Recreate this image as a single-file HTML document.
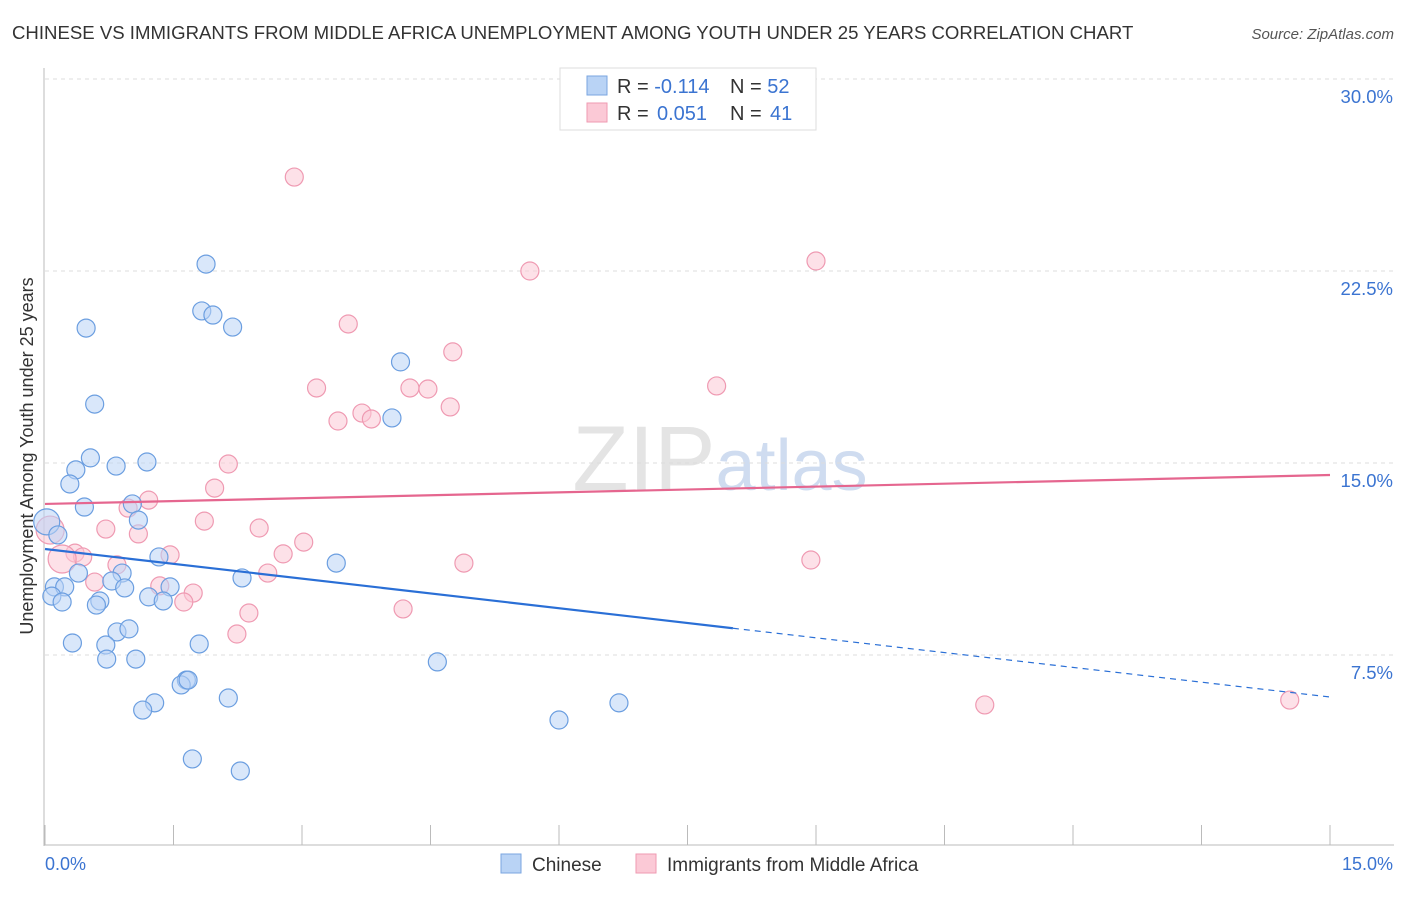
<!DOCTYPE html>
<html><head><meta charset="utf-8"><style>
body{margin:0;background:#fff;font-family:"Liberation Sans",sans-serif}
svg text{font-family:"Liberation Sans",sans-serif}
</style></head><body>
<svg id="chart" width="1406" height="892" xmlns="http://www.w3.org/2000/svg">
<text x="12" y="39" font-size="18.6" fill="#333">CHINESE VS IMMIGRANTS FROM MIDDLE AFRICA UNEMPLOYMENT AMONG YOUTH UNDER 25 YEARS CORRELATION CHART</text>
<text x="1394" y="39" font-size="15" fill="#555" text-anchor="end" font-style="italic">Source: ZipAtlas.com</text>
<text x="720" y="490" font-size="92" text-anchor="middle" fill="#e4e4e4" font-family="Liberation Serif">ZIP<tspan fill="#cfdcf0" font-family="Liberation Sans" font-size="72">atlas</tspan></text>
<g id="grid"></g><g id="axes"></g><g id="marks"></g>
<text transform="translate(33,456) rotate(-90)" font-size="18" fill="#333" text-anchor="middle">Unemployment Among Youth under 25 years</text>
<g>
<rect x="560" y="68" width="256" height="62" fill="#fff" stroke="#ddd"/>
<rect x="587" y="76" width="20" height="19" fill="#b9d3f5" stroke="#7aa6e0"/>
<rect x="587" y="103" width="20" height="19" fill="#fbc9d6" stroke="#ef9ab2"/>
<text x="617" y="93" font-size="20" fill="#333">R = <tspan fill="#3b74d1">-0.114</tspan><tspan x="730">N = </tspan><tspan fill="#3b74d1">52</tspan></text>
<text x="617" y="120" font-size="20" fill="#333">R = <tspan fill="#3b74d1" x="657">0.051</tspan><tspan x="730">N = </tspan><tspan fill="#3b74d1" x="770">41</tspan></text>
</g>
<g>
<rect x="501" y="854" width="20" height="19" fill="#b9d3f5" stroke="#7aa6e0"/>
<text x="532" y="871" font-size="19" fill="#333">Chinese</text>
<rect x="636" y="854" width="20" height="19" fill="#fbc9d6" stroke="#ef9ab2"/>
<text x="667" y="871" font-size="19" fill="#333">Immigrants from Middle Africa</text>
</g>
</svg>
<script>
const yTicks=[7.5,15,22.5,30];
const yTickLabels=["7.5%","15.0%","22.5%","30.0%"];
const xTicks=[0,1.5,3,4.5,6,7.5,9,10.5,12,13.5,15];
const xEndLabels=["0.0%","15.0%"];
const chineseX=[1.88,0.48,1.83,1.96,2.19,0.58,4.15,4.05,0.53,0.83,1.19,0.36,0.29,0.46,1.02,1.09,0.02,0.15,1.33,3.40,0.39,0.90,2.30,0.78,0.11,0.23,0.93,1.46,0.08,0.20,0.64,1.21,1.38,0.60,0.84,0.98,0.32,0.71,1.80,0.72,1.06,4.58,1.65,1.59,1.67,2.14,1.28,1.14,6.00,6.70,1.72,2.28];
const chineseY=[22.77,20.27,20.94,20.78,20.31,17.30,18.95,16.76,15.20,14.88,15.04,14.73,14.18,13.28,13.40,12.77,12.70,12.19,11.33,11.09,10.70,10.70,10.51,10.39,10.16,10.16,10.12,10.16,9.80,9.57,9.61,9.77,9.61,9.45,8.40,8.52,7.97,7.89,7.93,7.34,7.34,7.23,6.52,6.33,6.52,5.82,5.63,5.35,4.96,5.63,3.44,2.97];
const immX=[2.91,5.66,9.00,3.54,4.76,3.17,4.26,4.47,7.84,3.70,3.42,3.81,4.73,2.14,1.98,1.21,0.97,1.86,0.71,2.50,1.09,0.06,3.02,0.35,1.46,2.78,0.44,0.20,8.94,4.89,0.84,2.60,0.58,1.34,1.73,1.62,2.38,4.18,2.24,10.97,14.53];
const immY=[26.17,22.50,22.89,20.43,19.34,17.93,17.93,17.89,18.01,16.95,16.64,16.72,17.19,14.96,14.02,13.55,13.24,12.73,12.42,12.46,12.23,12.38,11.91,11.48,11.41,11.45,11.33,11.25,11.21,11.09,11.02,10.70,10.35,10.20,9.92,9.57,9.14,9.30,8.32,5.55,5.74];
const chineseTrend=[11.64,5.86];
const chineseSolidEnd=8.03;
const immTrend=[13.40,14.53];
const NS="http://www.w3.org/2000/svg";
const sx=v=>45+v/15*1285;
const sy=v=>847-v/7.5*192;
function mk(tag,attrs,parent){const e=document.createElementNS(NS,tag);for(const k in attrs)e.setAttribute(k,attrs[k]);parent.appendChild(e);return e;}
const grid=document.getElementById('grid'),axes=document.getElementById('axes'),marks=document.getElementById('marks');
yTicks.forEach((t,i)=>{
 const l=mk('line',{x1:45,x2:1394,y1:sy(t),y2:sy(t),stroke:'#ddd','stroke-dasharray':'4,4'},grid);
 
 
 const tx=mk('text',{x:1393,y:sy(t)+24,'font-size':18.5,fill:'#3b74d1','text-anchor':'end'},axes);
 tx.textContent=yTickLabels[i];
 
 
});
const ya=mk('line',{x1:44,x2:44,y1:68,y2:846,stroke:'#bbb'},axes);


const xa=mk('line',{x1:44,x2:1394,y1:845,y2:845,stroke:'#bbb'},axes);


xTicks.forEach(t=>{
 const l=mk('line',{x1:sx(t),x2:sx(t),y1:825,y2:845,stroke:'#bbb'},axes);
 
 
});
const xl0=mk('text',{x:45,y:870,'font-size':18,fill:'#3b74d1'},axes);xl0.textContent=xEndLabels[0];


const xl1=mk('text',{x:1393,y:870,'font-size':18,fill:'#3b74d1','text-anchor':'end'},axes);xl1.textContent=xEndLabels[1];


function dot(x,y,fill,stroke,name,r){const c=mk('circle',{cx:sx(x),cy:sy(y),r:r,fill:fill,'fill-opacity':0.55,stroke:stroke,'stroke-width':1.2},marks);
 
 }
immX.forEach((x,i)=>dot(x,immY[i],'#fbc9d6','#ef9ab2','immigrants-point',i===21||i===27?14:9));
chineseX.forEach((x,i)=>dot(x,chineseY[i],'#b9d3f5','#6b9ee0','chinese-point',i===16?13:9));
const slope=(chineseTrend[1]-chineseTrend[0])/15;
const bl=mk('line',{x1:sx(0),y1:sy(chineseTrend[0]),x2:sx(chineseSolidEnd),y2:sy(chineseTrend[0]+slope*chineseSolidEnd),stroke:'#2a6fd6','stroke-width':2.2},marks);


const bd=mk('line',{x1:sx(chineseSolidEnd),y1:sy(chineseTrend[0]+slope*chineseSolidEnd),x2:sx(15),y2:sy(chineseTrend[1]),stroke:'#2a6fd6','stroke-width':1.2,'stroke-dasharray':'6,5'},marks);


const pl=mk('line',{x1:sx(0),y1:sy(immTrend[0]),x2:sx(15),y2:sy(immTrend[1]),stroke:'#e5668f','stroke-width':2.2},marks);


</script>
</body></html>
